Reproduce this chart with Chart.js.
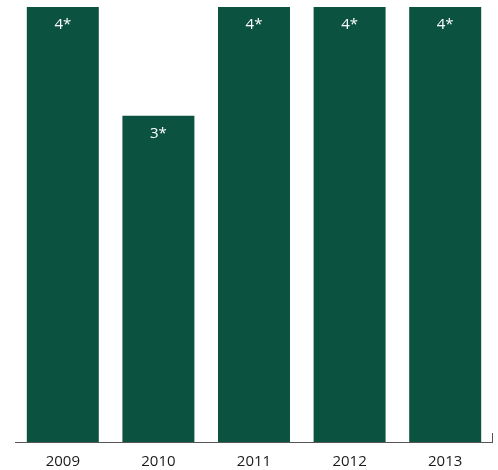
<!DOCTYPE html>
<html>
<head>
<meta charset="utf-8">
<script src="https://cdn.jsdelivr.net/npm/chart.js@4/dist/chart.umd.min.js"></script>
<style>
  html, body { margin: 0; padding: 0; background: #fff; }
  #wrap { width: 498px; height: 470px; }
</style>
</head>
<body>
<div id="wrap"><canvas id="years-bar-chart"></canvas></div>
<script>
const years = ["2009", "2010", "2011", "2012", "2013"];
const scores = [4, 3, 4, 4, 4];
const barColor = '#0c5240';

// value with an asterisk, written inside the top of each bar
const starLabels = {
  id: 'starLabels',
  afterDatasetsDraw(chart) {
    const ctx = chart.ctx;
    const meta = chart.getDatasetMeta(0);
    ctx.save();
    ctx.fillStyle = '#ffffff';
    ctx.font = '15px "Open Sans", sans-serif';
    ctx.textAlign = 'center';
    ctx.textBaseline = 'middle';
    meta.data.forEach((bar, i) => {
      ctx.fillText(scores[i] + '*', bar.x, bar.y + 18);
    });
    ctx.restore();
  }
};

// baseline with a small upward tick at its right end
const baseLine = {
  id: 'baseLine',
  afterDatasetsDraw(chart) {
    const ctx = chart.ctx;
    const a = chart.chartArea;
    ctx.save();
    ctx.strokeStyle = '#555555';
    ctx.lineWidth = 1;
    ctx.beginPath();
    ctx.moveTo(a.left, a.bottom + 0.5);
    ctx.lineTo(a.right, a.bottom + 0.5);
    ctx.moveTo(a.right - 0.5, a.bottom + 0.5);
    ctx.lineTo(a.right - 0.5, a.bottom - 9);
    ctx.stroke();
    ctx.restore();
  }
};

new Chart(document.getElementById("years-bar-chart"), {
    type: 'bar',
    data: {
      labels: years,
      datasets: [{
        data: scores,
        backgroundColor: barColor,
        barPercentage: 0.753,
        categoryPercentage: 1.0
      }]
    },
    options: {
      responsive: true,
      maintainAspectRatio: false,
      animation: false,
      layout: { padding: { left: 15, right: 5, top: 7, bottom: -12 } },
      plugins: {
        legend: { display: false },
        tooltip: { enabled: false }
      },
      scales: {
        x: {
          grid: { display: false, drawTicks: false },
          border: { display: false },
          ticks: {
            color: '#1a1a1a',
            padding: 11,
            font: { family: '"Open Sans", sans-serif', size: 15 }
          }
        },
        y: {
          display: false,
          min: 0,
          max: 4
        }
      }
    },
    plugins: [starLabels, baseLine]
});
</script>
</body>
</html>
